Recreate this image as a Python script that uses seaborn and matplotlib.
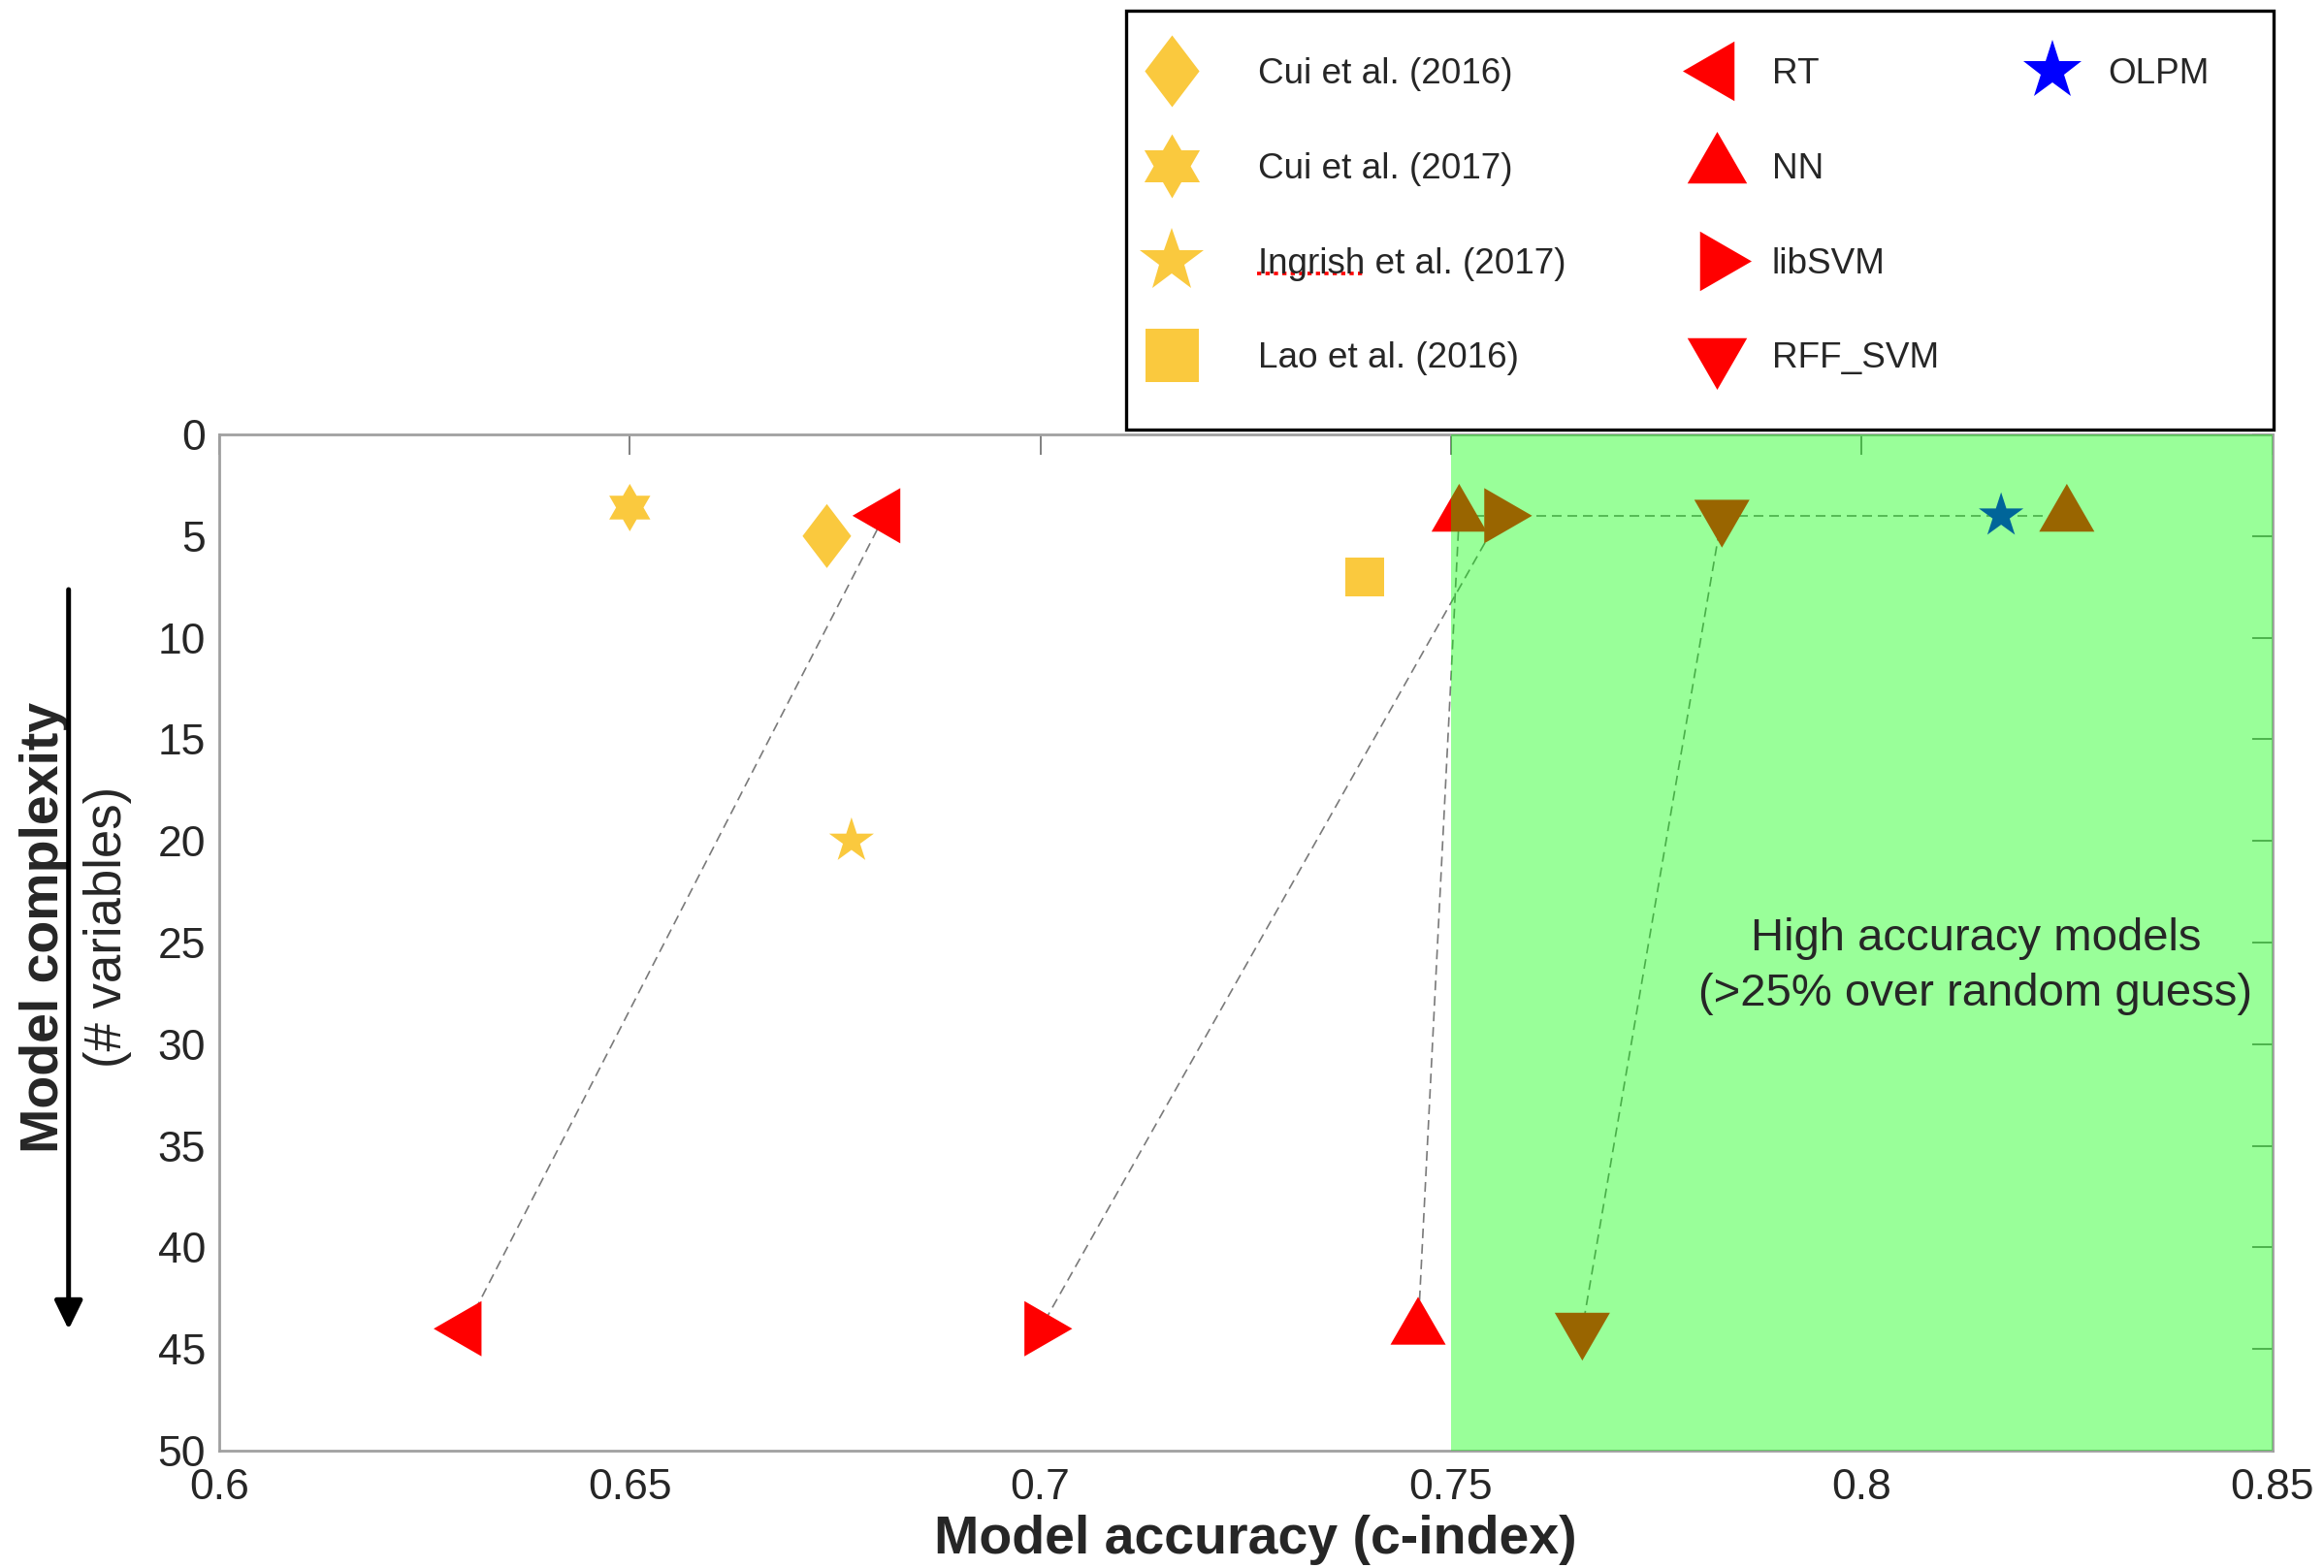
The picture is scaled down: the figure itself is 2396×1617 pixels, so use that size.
import numpy as np
import pandas as pd
import seaborn as sns
import matplotlib.pyplot as plt
from matplotlib.markers import MarkerStyle
from matplotlib.lines import Line2D
from matplotlib.patches import Rectangle, FancyArrowPatch

W, H, DPI = 2396, 1617, 200

# published models
cui2016_x = [0.674]
cui2016_y = [5]
cui2017_x = [0.650]
cui2017_y = [3.6]
ingrish_x = [0.677]
ingrish_y = [20]
lao_x = [0.7395]
lao_y = [7]

# our models: reduced set (4 variables) and full set (44 variables)
rt_x = [0.681, 0.630]
rt_y = [4, 44]
nn_x = [0.751, 0.746, 0.825]
nn_y = [4, 44, 4]
libsvm_x = [0.756, 0.700]
libsvm_y = [4, 44]
rff_x = [0.783, 0.766]
rff_y = [4, 44]
olpm_x = [0.817]
olpm_y = [4]

x_ticks = [0.6, 0.65, 0.7, 0.75, 0.8, 0.85]
x_tick_labels = ["0.6", "0.65", "0.7", "0.75", "0.8", "0.85"]
y_ticks = [0, 5, 10, 15, 20, 25, 30, 35, 40, 45, 50]
high_acc_start = 0.75

GOLD = "#FAC93E"
RED = "#FF0000"
BLUE = "#0000FF"
LINE_GREY = "#7a7a7a"


def tri(angle):
    a = np.deg2rad(angle + np.array([0, 120, 240, 0]))
    return MarkerStyle(list(zip(np.cos(a), np.sin(a))))


def hexagram():
    a = np.deg2rad(90 + 30 * np.arange(13))
    r = np.where(np.arange(13) % 2 == 0, 1.0, 1 / np.sqrt(3))
    return MarkerStyle(list(zip(r * np.cos(a), r * np.sin(a))))


DIAMOND = MarkerStyle([(0, 1), (0.76, 0), (0, -1), (-0.76, 0), (0, 1)])
HEXAGRAM = hexagram()
STAR = MarkerStyle("*")
SQUARE = MarkerStyle("s")
LEFT, UP, RIGHT, DOWN = tri(180), tri(90), tri(0), tri(270)


def pt(px):
    return px * 72 / DPI


sns.set_theme(style="white")
plt.rcParams["font.family"] = ["Liberation Sans", "DejaVu Sans"]

fig = plt.figure(figsize=(W / DPI, H / DPI), dpi=DPI)
ax = fig.add_axes([226 / W, 1 - 1496 / H, (2342.5 - 226) / W, (1496 - 448) / H])

# dashed connectors between the reduced and full variable sets
conn = dict(color=LINE_GREY, lw=0.6, ls=(0, (6, 3.6)), zorder=1.5)
ax.plot(rt_x, rt_y, **conn)
ax.plot(nn_x[:2], nn_y[:2], **conn)
ax.plot(libsvm_x, libsvm_y, **conn)
ax.plot(rff_x, rff_y, **conn)
ax.plot([nn_x[0], nn_x[2]], [nn_y[0], nn_y[2]], **conn)

series = [
    (cui2016_x, cui2016_y, DIAMOND, 66, GOLD),
    (cui2017_x, cui2017_y, HEXAGRAM, 49, GOLD),
    (ingrish_x, ingrish_y, STAR, 48.6, GOLD),
    (lao_x, lao_y, SQUARE, 40, GOLD),
    (rt_x, rt_y, LEFT, 65.8, RED),
    (nn_x, nn_y, UP, 65.8, RED),
    (libsvm_x, libsvm_y, RIGHT, 65.8, RED),
    (rff_x, rff_y, DOWN, 65.8, RED),
    (olpm_x, olpm_y, STAR, 48.4, BLUE),
]
for xs, ys, mk, size_px, col in series:
    df = pd.DataFrame({"accuracy": xs, "n_vars": ys})
    sns.scatterplot(data=df, x="accuracy", y="n_vars", marker=mk,
                    s=pt(size_px) ** 2, color=col, linewidth=0,
                    edgecolor="none", ax=ax, zorder=2, legend=False)

ax.axvspan(high_acc_start, x_ticks[-1], color=(0, 1, 0), alpha=0.4, lw=0, zorder=3)

ax.text(0.8139, 25.38, "High accuracy models", ha="center", va="baseline",
        fontsize=17, zorder=4)
ax.text(0.8139, 28.1, "(>25% over random guess)", ha="center", va="baseline",
        fontsize=17, zorder=4)

ax.set_xlim(x_ticks[0], x_ticks[-1])
ax.set_ylim(y_ticks[-1], y_ticks[0])
ax.set_xticks(x_ticks)
ax.set_xticklabels(x_tick_labels)
ax.set_yticks(y_ticks)
ax.tick_params(direction="in", length=7.7, width=0.7, color="#808080",
               top=True, right=True, labelsize=16, labelcolor="#262626")
ax.tick_params(axis="x", pad=6.5)
ax.tick_params(axis="y", pad=5)
for sp in ax.spines.values():
    sp.set_color("#a0a0a0")
    sp.set_linewidth(1.0)

ax.set_xlabel("Model accuracy (c-index)", fontsize=20, fontweight="bold")
ax.xaxis.set_label_coords(0.5046, -0.1011)
ax.xaxis.label.set_va("baseline")
ax.set_ylabel("Model complexity", fontsize=20, fontweight="bold")
ax.yaxis.set_label_coords(-0.0784, 0.5153)
ax.yaxis.label.set_va("baseline")
ax.text(-0.0477, 0.5153, "(# variables)", transform=ax.transAxes, rotation=90,
        rotation_mode="anchor", ha="center", va="baseline", fontsize=19)

fig.add_artist(FancyArrowPatch((70.7 / W, 1 - 608 / H), (70.7 / W, 1 - 1371 / H),
                               transform=fig.transFigure,
                               arrowstyle="-|>,head_length=0.45,head_width=0.22",
                               mutation_scale=20, lw=1.8, color="black",
                               shrinkA=0, shrinkB=0))

# legend: frame + three columns
fig.add_artist(Rectangle((1161 / W, 1 - 443 / H), (2344 - 1161) / W, (443 - 11) / H,
                         transform=fig.transFigure, fill=False, ec="black", lw=1.2))


def handle(mk, size_px, col):
    return Line2D([], [], marker=mk, markersize=pt(size_px), color=col,
                  linestyle="none", markeredgewidth=0)


columns = [
    ([handle(DIAMOND, 74, GOLD), handle(HEXAGRAM, 66, GOLD),
      handle(STAR, 69, GOLD), handle(SQUARE, 55, GOLD)],
     ["Cui et al. (2016)", "Cui et al. (2017)", "Ingrish et al. (2017)", "Lao et al. (2016)"],
     1178, 1.63),
    ([handle(LEFT, 71, RED), handle(UP, 71, RED), handle(RIGHT, 71, RED), handle(DOWN, 71, RED)],
     ["RT", "NN", "libSVM", "RFF_SVM"], 1740, 0.75),
    ([handle(STAR, 64, BLUE)], ["OLPM"], 2086, 0.77),
]
for hs, labels, x_left, pad in columns:
    fig.legend(handles=hs, labels=labels, loc="upper left",
               bbox_to_anchor=(x_left / W, 1 - 59 / H), frameon=False,
               borderpad=0, borderaxespad=0, handlelength=1.6,
               handletextpad=pad, labelspacing=1.7, fontsize=13.3)

# spell-check underline that is visible in the original
fig.add_artist(Line2D([1296 / W, 1408 / W], [1 - 282 / H, 1 - 282 / H],
                      transform=fig.transFigure, color="red", lw=1.3,
                      ls=(0, (1.2, 1.2))))

fig.savefig("out.png", dpi=DPI)
